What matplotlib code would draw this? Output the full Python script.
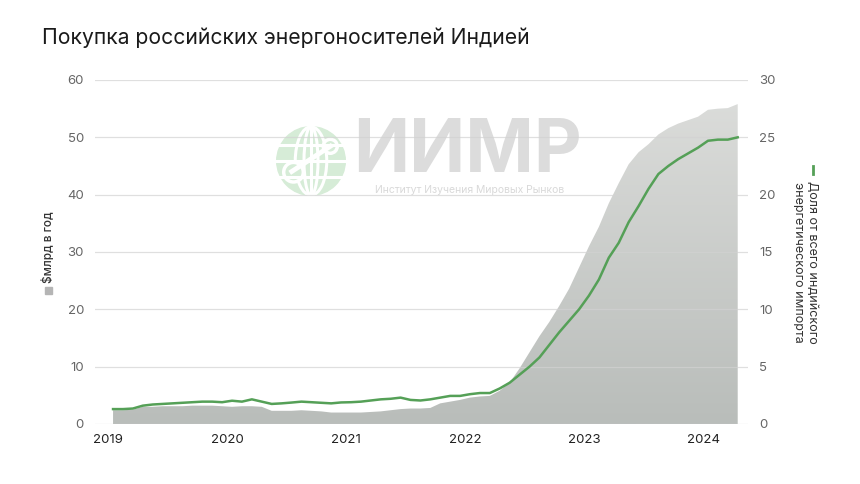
import numpy as np
import matplotlib
matplotlib.use('Agg')
import matplotlib.pyplot as plt
from matplotlib.colors import LinearSegmentedColormap
from matplotlib.patches import Circle, Ellipse

plt.rcParams['font.family'] = ['Inter', 'DejaVu Sans']

# Monthly data, Jan 2019 - Apr 2024
start_year = 2019
purchases_bn = [2.4, 2.4, 2.5, 3.0, 3.0, 3.1, 3.1, 3.1, 3.2, 3.2, 3.2, 3.1,
                3.0, 3.1, 3.1, 3.0, 2.3, 2.3, 2.3, 2.4, 2.3, 2.2, 2.0, 2.0,
                2.0, 2.0, 2.1, 2.2, 2.4, 2.6, 2.7, 2.7, 2.8, 3.6, 3.9, 4.2,
                4.6, 4.8, 4.9, 5.8, 7.2, 9.7, 12.5, 15.3, 17.8, 20.6, 23.6, 27.3,
                31.0, 34.4, 38.5, 42.0, 45.3, 47.4, 48.8, 50.5, 51.6, 52.4, 53.0, 53.6,
                54.8, 55.0, 55.1, 55.8]
share_pct = [1.3, 1.3, 1.35, 1.6, 1.7, 1.75, 1.8, 1.85, 1.9, 1.95, 1.95, 1.9,
             2.03, 1.95, 2.15, 1.95, 1.75, 1.8, 1.87, 1.95, 1.9, 1.85, 1.8, 1.88,
             1.9, 1.95, 2.05, 2.15, 2.2, 2.3, 2.1, 2.05, 2.15, 2.3, 2.45, 2.45,
             2.6, 2.7, 2.7, 3.1, 3.6, 4.3, 5.0, 5.8, 6.9, 8.0, 9.0, 10.0,
             11.2, 12.6, 14.5, 15.8, 17.6, 19.0, 20.5, 21.8, 22.5, 23.1, 23.6, 24.1,
             24.7, 24.8, 24.8, 25.0]
year_ticks = [2019, 2020, 2021, 2022, 2023, 2024]
left_ticks = [0, 10, 20, 30, 40, 50, 60]
right_ticks = [0, 5, 10, 15, 20, 25, 30]

x = start_year + (np.arange(len(purchases_bn)) + 0.5) / 12

W, H = 860, 484
fig = plt.figure(figsize=(W / 100, H / 100), dpi=100)

def fx(px):
    return px / W

def fy(py):
    return 1 - py / H

ax = fig.add_axes([fx(95), fy(424), fx(748) - fx(95), fy(80) - fy(424)])
ax.patch.set_alpha(0)
x_lim = (2018.89, 2019 + (748 - 108) / 119)
ax.set_ylim(0, 60)

# gradient filled area
poly = ax.fill_between(x, 0, purchases_bn, facecolor='none', edgecolor='none')
cmap = LinearSegmentedColormap.from_list('g', ['#b9bdba', '#dddedc'])
grad = np.linspace(0, 1, 256).reshape(-1, 1)
im = ax.imshow(grad, cmap=cmap, aspect='auto', origin='lower',
               extent=[2018.5, 2025, 0, 60], zorder=1)
im.set_clip_path(poly.get_paths()[0], transform=ax.transData)
ax.set_xlim(*x_lim)

for v in left_ticks:
    ax.axhline(v, color='#d2d2d2', lw=0.9, zorder=2, alpha=0.7)

ax.set_yticks(left_ticks)
ax.set_xticks(year_ticks)
ax.set_xticklabels([str(y) for y in year_ticks])
ax.tick_params(axis='y', length=0, pad=8, labelsize=9.5, labelcolor='#666666')
ax.tick_params(axis='x', length=0, pad=7, labelsize=9.5, labelcolor='#222222')
for s in ax.spines.values():
    s.set_visible(False)

ax2 = ax.twinx()
ax2.set_ylim(0, 30)
ax2.plot(x, share_pct, color='#55a057', lw=1.8, zorder=3, solid_joinstyle='round')
ax2.set_yticks(right_ticks)
ax2.tick_params(axis='y', length=0, pad=8, labelsize=9.5, labelcolor='#666666')
for s in ax2.spines.values():
    s.set_visible(False)

# title
fig.text(fx(42), fy(38), 'Покупка российских энергоносителей Индией',
         fontsize=15.2, color='#1a1a1a', va='center', ha='left')

# left legend label
fig.text(fx(48), fy(247), '$млрд в год', rotation=90, fontsize=8.5,
         fontweight='medium', color='#333333', ha='center', va='center')
fig.patches.append(plt.Rectangle((fx(44.5), fy(294)), fx(7), fy(0) - fy(7),
                                 transform=fig.transFigure, color='#b5b5b5',
                                 figure=fig))

# right legend label
fig.text(fx(805), fy(262),
         'Доля от всего индийского\nэнергетического импорта',
         rotation=270, fontsize=9, color='#333333', ha='center', va='center',
         linespacing=1.15, rotation_mode='anchor')
fig.lines.append(plt.Line2D([fx(813), fx(813)], [fy(166), fy(174)],
                            transform=fig.transFigure, color='#55a057', lw=2,
                            figure=fig))

# watermark
fig.text(fx(353), fy(152), 'ИИМР', fontsize=53, fontweight='bold',
         color='#dcdcdc', ha='left', va='center', zorder=-1)
fig.text(fx(470), fy(190), 'Институт Изучения Мировых Рынков', fontsize=7.5,
         color='#d9d9d9', ha='center', va='center', zorder=-1)
lax = fig.add_axes([fx(276), fy(196), fx(70), fy(0) - fy(70)], zorder=-1)
lax.set_xlim(-1, 1)
lax.set_ylim(-1, 1)
lax.axis('off')
lax.add_patch(Circle((0, 0), 0.98, color='#d6ecd7'))
for w in [0.9, 0.4]:
    lax.add_patch(Ellipse((0, 0), w, 1.96, fill=False, ec='white', lw=2.2))
lax.plot([0, 0], [-1, 1], color='white', lw=2.2)
for yy in [-0.45, 0.0, 0.45]:
    lax.plot([-1, 1], [yy, yy], color='white', lw=2.2)
lax.plot([-0.55, 0.55], [-0.3, 0.42], color='white', lw=3.5)
lax.add_patch(Circle((-0.5, -0.32), 0.28, fc='#d6ecd7', ec='white', lw=2.5))
lax.add_patch(Circle((0.55, 0.42), 0.2, fc='#d6ecd7', ec='white', lw=2.5))

fig.savefig('out.png', dpi=100)
